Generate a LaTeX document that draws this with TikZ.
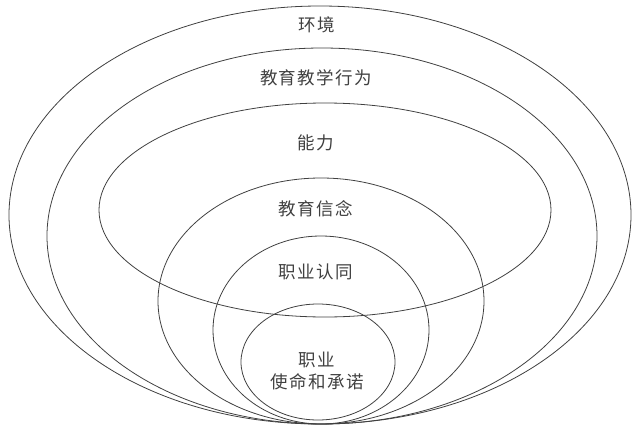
\documentclass[tikz,border=0pt]{standalone}
\usepackage{fontspec}
\newfontfamily\zhfont{Noto Sans CJK SC}[LetterSpace=8]
\usepackage{tikz}
\usetikzlibrary{positioning}

\begin{document}
\begin{tikzpicture}[x=1pt, y=-1pt,
  ring/.style={draw=black!75, line width=0.8pt},
  layer/.style={text=black!75, align=center, inner sep=1pt,
    font=\zhfont\fontsize{17.5}{22}\selectfont}
]
\useasboundingbox (0,0) rectangle (633,426);
% nested rings, all touching at the bottom
\draw[ring] (320,215) ellipse [x radius=311, y radius=209];
\draw[ring] (322,236) ellipse [x radius=275, y radius=188];
\draw[ring] (325,210) ellipse [x radius=226, y radius=107];
\draw[ring] (321,301) ellipse [x radius=163, y radius=123];
\draw[ring] (321,330) ellipse [x radius=108, y radius=94];
\draw[ring] (318,362) ellipse [x radius=77, y radius=58];

\node[layer] (env) at (317,25) {环境};
\node[layer] (act) at (316,78) {教育教学行为};
\node[layer] (abil) at (316,143) {能力};
\node[layer] (belief) at (316,209) {教育信念};
\node[layer] (ident) at (316,272) {职业认同};
\node[layer] (mission) at (317,371) {职业\\使命和承诺};
\end{tikzpicture}
\end{document}
